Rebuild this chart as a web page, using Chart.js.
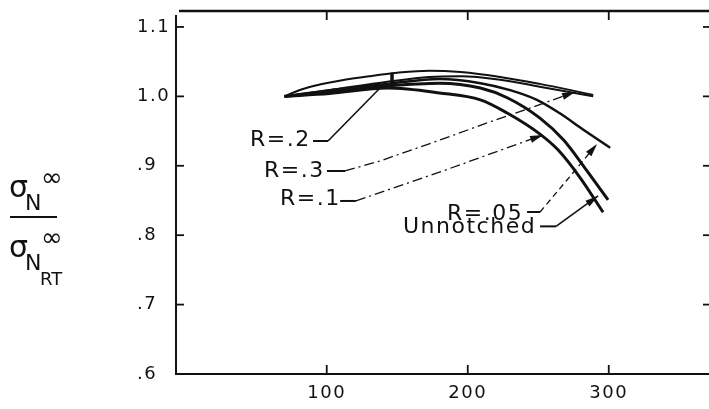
<!DOCTYPE html>
<html>
<head>
<meta charset="utf-8">
<script src="https://cdn.jsdelivr.net/npm/chart.js@4.4.1/dist/chart.umd.min.js"></script>
<style>
  html, body { margin: 0; padding: 0; background: #fff; }
  #wrap { width: 709px; height: 409px; position: relative; }
</style>
</head>
<body>
<div id="wrap"><canvas id="chart"></canvas></div>
<script>
/* ─── Data: temperature (°F) vs normalized strength ─────────────── */

const X_TICKS = [100, 200, 300];
const Y_TICKS = [0.6, 0.7, 0.8, 0.9, 1.0, 1.1];
const Y_TICK_LABELS = ['.6', '.7', '.8', '.9', '1.0', '1.1'];

const TEMP_R02 = [70, 82, 95, 110, 130, 150, 173, 195, 223, 251, 273, 289];
const RATIO_R02 = [1.000, 1.010, 1.017, 1.023, 1.029, 1.034, 1.037, 1.035, 1.028, 1.018, 1.009, 1.002];

const TEMP_R03 = [70, 102, 143, 173, 195, 223, 251, 273, 289];
const RATIO_R03 = [1.000, 1.009, 1.021, 1.028, 1.029, 1.024, 1.014, 1.006, 1.000];

const TEMP_R005 = [70, 102, 143, 180, 209, 230, 249, 265, 282, 301];
const RATIO_R005 = [1.000, 1.009, 1.018, 1.025, 1.019, 1.009, 0.995, 0.976, 0.952, 0.926];

const TEMP_UNNOTCHED = [70, 102, 143, 180, 209, 228, 251, 268, 283, 299.5];
const RATIO_UNNOTCHED = [1.000, 1.006, 1.015, 1.019, 1.012, 0.998, 0.969, 0.937, 0.897, 0.851];

const TEMP_R01 = [70, 102, 143, 180, 209, 228, 251, 264, 280, 296];
const RATIO_R01 = [1.000, 1.004, 1.012, 1.005, 0.995, 0.976, 0.946, 0.923, 0.882, 0.833];

/* ─── Look ─────────────────────────────────────────────────────── */

const INK = '#111';
const FONT = 'DejaVu Sans';
const X_MIN = -6.9, X_MAX = 371.1;
const Y_MIN = 0.6, Y_MAX = 1.123;

const SERIES = [
  { label: 'R=.2', x: TEMP_R02, y: RATIO_R02, width: 2 },
  { label: 'R=.3', x: TEMP_R03, y: RATIO_R03, width: 2 },
  { label: 'R=.05', x: TEMP_R005, y: RATIO_R005, width: 2.5 },
  { label: 'Unnotched', x: TEMP_UNNOTCHED, y: RATIO_UNNOTCHED, width: 3 },
  { label: 'R=.1', x: TEMP_R01, y: RATIO_R01, width: 3 },
];

// callout text + leader paths, in axis units
const DASH_DOT = [10, 4, 2, 4];
const CALLOUTS = [
  { text: 'R=.2', at: [45.6, 0.937],
    stub: [[90.3, 0.9357], [100.9, 0.9357]],
    path: [[100.9, 0.9357], [139.9, 1.0164]], dash: [], arrow: false,
    bar: [[146.3, 1.015], [146.3, 1.034]] },
  { text: 'R=.3', at: [55.5, 0.8925],
    stub: [[100.2, 0.8925], [113, 0.8925]],
    path: [[113, 0.8925], [137.8, 0.9069], [180.4, 0.9372], [213.7, 0.9617], [246.3, 0.9847], [276.1, 1.0063]],
    dash: DASH_DOT, arrow: true },
  { text: 'R=.1', at: [66.9, 0.8522],
    stub: [[109.5, 0.8493], [120.7, 0.8493]],
    path: [[120.7, 0.8493], [180.4, 0.8911], [253.4, 0.9444]],
    dash: DASH_DOT, arrow: true },
  { text: 'R=.05', at: [185.3, 0.8305],
    stub: [[242.1, 0.8334], [251.3, 0.8334]],
    path: [[251.3, 0.8334], [270.4, 0.8795], [291.7, 0.9314]],
    dash: [6, 4], arrow: true },
  { text: 'Unnotched', at: [154.1, 0.8112],
    stub: [[251.3, 0.8127], [262.6, 0.8127]],
    path: [[262.6, 0.8127], [292.4, 0.8565]],
    dash: [], arrow: true },
];

/* ─── Drawing helpers ──────────────────────────────────────────── */

function seg(ctx, x1, y1, x2, y2) {
  ctx.beginPath(); ctx.moveTo(x1, y1); ctx.lineTo(x2, y2); ctx.stroke();
}

function arrowHead(ctx, from, to) {
  const ang = Math.atan2(to[1] - from[1], to[0] - from[0]);
  const len = 13, half = 3.5;
  ctx.save();
  ctx.translate(to[0], to[1]);
  ctx.rotate(ang);
  ctx.beginPath();
  ctx.moveTo(0, 0); ctx.lineTo(-len, -half); ctx.lineTo(-len, half);
  ctx.closePath(); ctx.fill();
  ctx.restore();
}

const spacing = {
  id: 'spacing',
  beforeDraw(chart) { chart.ctx.letterSpacing = '1.5px'; },
};

const frame = {
  id: 'frame',
  afterDraw(chart) {
    const { ctx, chartArea: { left, right, top, bottom } } = chart;
    const sx = chart.scales.x, sy = chart.scales.y;
    const P = ([x, y]) => [sx.getPixelForValue(x), sy.getPixelForValue(y)];
    ctx.save();
    ctx.strokeStyle = INK; ctx.fillStyle = INK; ctx.lineCap = 'butt';

    // axes box, ticks pointing inward
    ctx.lineWidth = 2;
    seg(ctx, left, top + 4, left, bottom + 1);
    seg(ctx, left - 1, bottom, right, bottom);
    ctx.lineWidth = 2.5;
    seg(ctx, left + 3, top, right, top);
    ctx.lineWidth = 1.8;
    Y_TICKS.forEach(v => {
      const y = sy.getPixelForValue(v);
      seg(ctx, left, y, left + 8, y);
      seg(ctx, right, y, right - 6, y);
    });
    X_TICKS.forEach(v => {
      const x = sx.getPixelForValue(v);
      seg(ctx, x, bottom, x, bottom - 9);
      seg(ctx, x, top, x, top + 9);
    });

    // callouts
    ctx.font = `22px "${FONT}"`;
    ctx.letterSpacing = '1.5px';
    ctx.textAlign = 'left'; ctx.textBaseline = 'middle';
    CALLOUTS.forEach(c => {
      const [tx, ty] = P(c.at);
      ctx.fillText(c.text, tx, ty);
      ctx.lineWidth = 2;
      ctx.setLineDash([]);
      const s0 = P(c.stub[0]), s1 = P(c.stub[1]);
      seg(ctx, s0[0], s0[1], s1[0], s1[1]);
      const pts = c.path.map(P);
      ctx.lineWidth = c.dash.length ? 1.3 : 1.6;
      ctx.setLineDash(c.dash);
      ctx.beginPath();
      pts.forEach((p, i) => i ? ctx.lineTo(p[0], p[1]) : ctx.moveTo(p[0], p[1]));
      ctx.stroke();
      ctx.setLineDash([]);
      if (c.arrow) arrowHead(ctx, pts[pts.length - 2], pts[pts.length - 1]);
      if (c.bar) {
        const b0 = P(c.bar[0]), b1 = P(c.bar[1]);
        ctx.lineWidth = 3.5;
        seg(ctx, b0[0], b0[1], b1[0], b1[1]);
      }
    });

    // y-axis title: sigma_N^inf / sigma_N_RT^inf
    ctx.letterSpacing = '0px';
    ctx.textAlign = 'left'; ctx.textBaseline = 'alphabetic';
    ctx.font = `30px "${FONT}"`;
    ctx.fillText('σ', 9, 197);
    ctx.fillText('σ', 9, 257);
    ctx.font = `22px "${FONT}"`;
    ctx.fillText('N', 25, 210);
    ctx.fillText('N', 25, 270);
    ctx.font = `18px "${FONT}"`;
    ctx.fillText('RT', 40, 285);
    ctx.font = `26px "${FONT}"`;
    ctx.fillText('∞', 41, 186);
    ctx.fillText('∞', 41, 246);
    ctx.lineWidth = 2;
    seg(ctx, 10, 217, 57, 217);
    ctx.restore();
  },
};

/* ─── Chart ────────────────────────────────────────────────────── */

Chart.defaults.font.family = FONT;
Chart.defaults.color = INK;

new Chart(document.getElementById('chart'), {
  type: 'line',
  data: {
    datasets: SERIES.map(s => ({
      label: s.label,
      data: s.x.map((t, i) => ({ x: t, y: s.y[i] })),
      borderColor: INK, borderWidth: s.width,
      pointRadius: 0, fill: false,
      cubicInterpolationMode: 'monotone',
    })),
  },
  options: {
    responsive: true, maintainAspectRatio: false, animation: false,
    layout: { padding: { left: 137, top: 11, right: 0, bottom: 0 } },
    plugins: { legend: { display: false }, tooltip: { enabled: false } },
    scales: {
      x: {
        type: 'linear', min: X_MIN, max: X_MAX,
        grid: { display: false, drawTicks: false }, border: { display: false },
        afterBuildTicks: s => { s.ticks = X_TICKS.map(v => ({ value: v })); },
        afterFit: s => { s.height = 35; },
        ticks: { font: { size: 18 }, padding: 9, maxRotation: 0, autoSkip: false, callback: v => String(v) },
      },
      y: {
        type: 'linear', min: Y_MIN, max: Y_MAX,
        grid: { display: false, drawTicks: false }, border: { display: false },
        afterBuildTicks: s => { s.ticks = Y_TICKS.map(v => ({ value: v })); },
        afterFit: s => { s.width = 39; },
        ticks: { font: { size: 18 }, padding: 0, crossAlign: 'far', autoSkip: false, callback: (v, i) => Y_TICK_LABELS[i] },
      },
    },
  },
  plugins: [spacing, frame],
});
</script>
</body>
</html>
